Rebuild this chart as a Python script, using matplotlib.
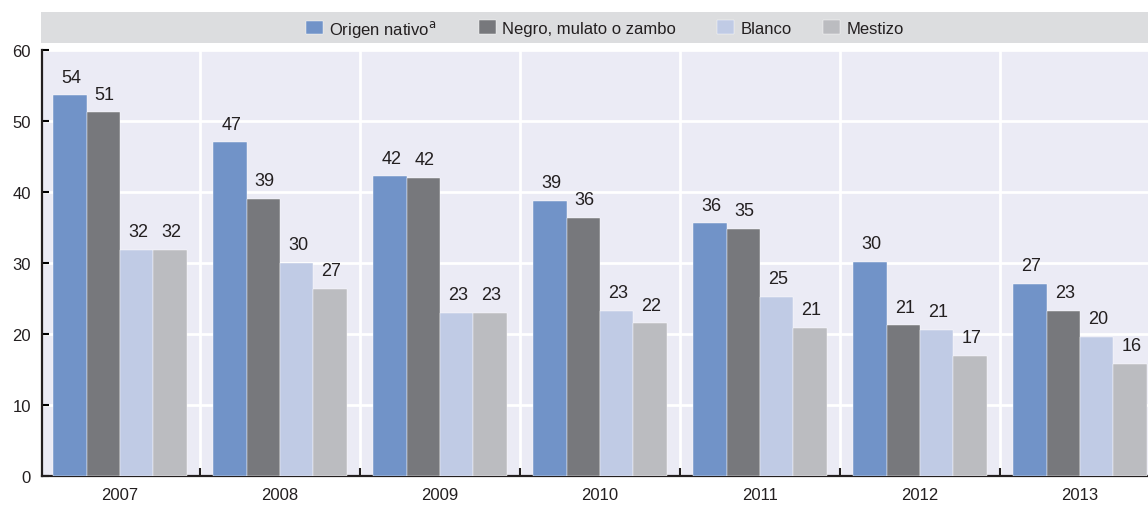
import matplotlib
matplotlib.use("Agg")
import matplotlib.pyplot as plt
from matplotlib.patches import Rectangle
import numpy as np

plt.rcParams['font.family'] = ['Liberation Sans', 'DejaVu Sans']

years = ['2007', '2008', '2009', '2010', '2011', '2012', '2013']
series_names = ['Origen nativo$^{\\mathrm{a}}$', 'Negro, mulato o zambo', 'Blanco', 'Mestizo']
origen = [53.6, 47.0, 42.2, 38.8, 35.6, 30.2, 27.1]
negro = [51.2, 39.0, 42.0, 36.4, 34.8, 21.2, 23.3]
blanco = [31.8, 30.0, 23.0, 23.3, 25.2, 20.6, 19.6]
mestizo = [31.8, 26.4, 23.0, 21.5, 20.9, 16.9, 15.8]
labels = [[54, 47, 42, 39, 36, 30, 27],
          [51, 39, 42, 36, 35, 21, 23],
          [32, 30, 23, 23, 25, 21, 20],
          [32, 27, 23, 22, 21, 17, 16]]

colours = ['#7193c8', '#77787c', '#c0cbe5', '#bbbcc0']
txt = '#231f20'

fig = plt.figure(figsize=(11.48, 5.06), dpi=100)
ax = fig.add_axes([42/1148, 29/506, 1 - 42/1148, (477-51)/506])
ax.set_facecolor('#ebebf5')

# legend band
fig.patches.append(Rectangle((41/1148, 1-44/506), 1, 31/506, transform=fig.transFigure,
                             facecolor='#dcdddf', edgecolor='none', zorder=0))

x = np.arange(len(years))
w = 0.209
data = [origen, negro, blanco, mestizo]
handles = []
for i, vals in enumerate(data):
    pos = x + (i - 1.5) * w
    b = ax.bar(pos, vals, width=w, color=colours[i], edgecolor='white', linewidth=0.3, zorder=3)
    handles.append(b)
    for px, v, lab in zip(pos, vals, labels[i]):
        ax.annotate(str(lab), (px, v), xytext=(1, 7), textcoords='offset points',
                    ha='center', va='bottom', fontsize=13, color=txt)

ax.set_yticks(np.arange(0, 61, 10))
ax.set_xticks(x + 0.5, minor=False)
ax.set_xticklabels([])
ax.set_xticks(x, minor=True)
ax.set_xticklabels(years, minor=True)
# limits after the ticks, otherwise set_xticks widens them
ax.set_xlim(-0.4875, 6.425)
ax.set_ylim(0, 60)
ax.tick_params(axis='x', which='major', direction='in', length=6, width=1.5, color=txt)
ax.tick_params(axis='x', which='minor', length=0, labelsize=12, pad=8, labelcolor=txt)
ax.tick_params(axis='y', direction='in', length=5, width=1.5, labelsize=12, pad=8, labelcolor=txt)
ax.grid(True, which='major', color='white', linewidth=2, zorder=1)
ax.set_axisbelow(True)

for s in ['top', 'right']:
    ax.spines[s].set_visible(False)
for s in ['left', 'bottom']:
    ax.spines[s].set_linewidth(1.6)
    ax.spines[s].set_color(txt)

# legend items placed one by one, as spaced in the original
leg_x = [306, 479, 717, 823]
for h, name, lx in zip(handles, series_names, leg_x):
    fig.legend([h], [name], loc='center left', bbox_to_anchor=(lx/1148, 1-29/506),
               frameon=False, fontsize=12, handlelength=1.0, handleheight=0.85,
               handletextpad=0.4, borderpad=0, borderaxespad=0, labelcolor=txt)

fig.savefig('out.png', dpi=100)
